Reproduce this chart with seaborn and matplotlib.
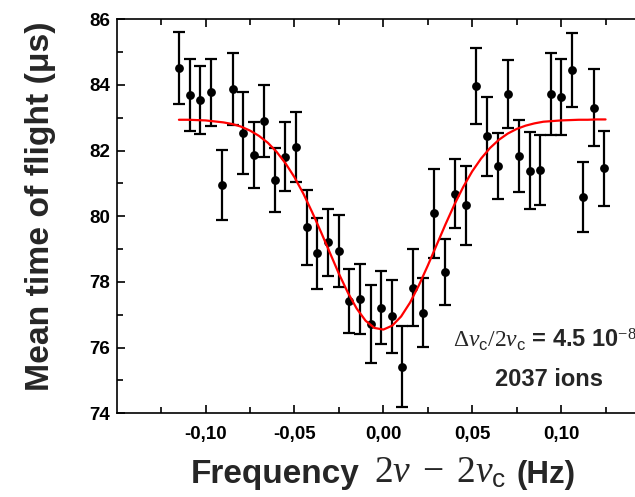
import matplotlib
matplotlib.use('Agg')
import matplotlib.pyplot as plt
import seaborn as sns
import pandas as pd
from matplotlib.ticker import FixedLocator, FuncFormatter

# measured points (frequency offset in Hz, mean TOF in us, error in us)
freq = [-0.1148, -0.1088, -0.1030, -0.0970, -0.0908, -0.0848, -0.0788, -0.0730,
        -0.0670, -0.0612, -0.0552, -0.0493, -0.0431, -0.0371, -0.0311, -0.0251,
        -0.0193, -0.0133, -0.0071, -0.0011, 0.0047, 0.0107, 0.0167, 0.0225,
        0.0287, 0.0348, 0.0404, 0.0464, 0.0524, 0.0584, 0.0644, 0.0704,
        0.0764, 0.0824, 0.0882, 0.0942, 0.1002, 0.1062, 0.1124, 0.1184, 0.1243]
tof = [84.52, 83.69, 83.55, 83.78, 80.96, 83.87, 82.55, 81.86,
       82.91, 81.10, 81.81, 82.11, 79.66, 78.87, 79.21, 78.95,
       77.42, 77.49, 76.72, 77.22, 76.95, 75.42, 77.83, 77.07,
       80.09, 78.31, 80.68, 80.34, 83.97, 82.44, 81.54, 83.72,
       81.84, 81.39, 81.41, 83.72, 83.63, 84.46, 80.59, 83.31, 81.46]
err = [1.10, 1.10, 1.03, 1.02, 1.07, 1.09, 1.25, 1.00,
       1.10, 0.97, 1.05, 1.06, 1.15, 1.07, 1.02, 1.10,
       0.96, 1.07, 1.19, 1.10, 1.10, 1.23, 1.18, 1.04,
       1.35, 1.00, 1.05, 1.20, 1.15, 1.20, 1.00, 1.03,
       1.10, 1.18, 1.08, 1.25, 1.15, 1.13, 1.06, 1.18, 1.14]

# fitted resonance curve
fit_freq = [-0.115, -0.110, -0.105, -0.100, -0.095, -0.090, -0.085, -0.080,
            -0.075, -0.070, -0.065, -0.060, -0.055, -0.050, -0.045, -0.040,
            -0.035, -0.030, -0.025, -0.020, -0.015, -0.010, -0.005, 0.000,
            0.005, 0.010, 0.015, 0.020, 0.025, 0.030, 0.035, 0.040,
            0.045, 0.050, 0.055, 0.060, 0.065, 0.070, 0.075, 0.080,
            0.085, 0.090, 0.095, 0.100, 0.105, 0.110, 0.115, 0.120, 0.125]
fit_tof = [82.94, 82.94, 82.93, 82.92, 82.89, 82.86, 82.81, 82.73,
           82.61, 82.45, 82.24, 81.96, 81.61, 81.19, 80.69, 80.12,
           79.51, 78.88, 78.25, 77.68, 77.19, 76.82, 76.60, 76.55,
           76.67, 76.95, 77.37, 77.90, 78.50, 79.13, 79.76, 80.36,
           80.90, 81.37, 81.76, 82.08, 82.33, 82.52, 82.66, 82.76,
           82.83, 82.88, 82.90, 82.92, 82.93, 82.94, 82.94, 82.95, 82.95]

xticks = [-0.10, -0.05, 0.0, 0.05, 0.10]
xminor = [-0.125, -0.075, -0.025, 0.025, 0.075, 0.125]
yticks = [74, 76, 78, 80, 82, 84, 86]
yminor = [75, 77, 79, 81, 83, 85]

sns.set_style('ticks')
plt.rcParams['font.family'] = ['Liberation Sans', 'DejaVu Sans']
plt.rcParams['mathtext.fontset'] = 'custom'
plt.rcParams['mathtext.rm'] = 'Liberation Serif'
plt.rcParams['mathtext.it'] = 'Liberation Serif:italic'
plt.rcParams['mathtext.bf'] = 'Liberation Sans:bold'
plt.rcParams['mathtext.sf'] = 'Liberation Sans'

df = pd.DataFrame({'freq': freq, 'tof': tof, 'err': err})
fit = pd.DataFrame({'freq': fit_freq, 'tof': fit_tof})

fig = plt.figure(figsize=(6.35, 4.97), dpi=100)
ax = fig.add_axes([0.1838, 0.1684, 0.8398, 0.7928])

ax.errorbar(df['freq'], df['tof'], yerr=df['err'], fmt='none', ecolor='black',
            elinewidth=1.6, capsize=4.5, capthick=1.6, zorder=2)
sns.scatterplot(data=df, x='freq', y='tof', ax=ax, color='black', s=40,
                edgecolor='black', linewidth=0, zorder=3, legend=False)
sns.lineplot(data=fit, x='freq', y='tof', ax=ax, color='red', linewidth=1.6,
             zorder=4, legend=False)

ax.set_xlim(-0.15, 0.15)
ax.set_ylim(74, 86)
ax.xaxis.set_major_locator(FixedLocator(xticks))
ax.xaxis.set_minor_locator(FixedLocator(xminor))
ax.yaxis.set_major_locator(FixedLocator(yticks))
ax.yaxis.set_minor_locator(FixedLocator(yminor))
ax.xaxis.set_major_formatter(FuncFormatter(lambda v, p: f"{v:.2f}".replace('.', ',').replace('-0,00', '0,00')))
ax.yaxis.set_major_formatter(FuncFormatter(lambda v, p: f"{int(round(v))}"))
ax.tick_params(which='both', direction='in', top=True, right=True, width=1.2,
               colors='black', labelsize=13.5)
ax.tick_params(which='major', length=6)
ax.tick_params(which='minor', length=4)
ax.tick_params(axis='x', which='major', pad=9)
ax.tick_params(axis='y', which='major', pad=5)
for lab in ax.get_xticklabels() + ax.get_yticklabels():
    lab.set_fontweight('bold')
for s in ax.spines.values():
    s.set_linewidth(1.2)
    s.set_color('black')
ax.set_xlabel('')
ax.set_ylabel('')

fig.text(41 / 635, 1 - 206 / 497, 'Mean time of flight (\u03bcs)', rotation=90,
         ha='center', va='center', fontsize=24.3, fontweight='bold')
base_y = 1 - 483 / 497
fig.text(191 / 635, base_y, 'Frequency', ha='left', va='baseline',
         fontsize=24, fontweight='bold')
fig.text(374 / 635, base_y, r'$2\nu\;-\;2\nu_{\mathsf{c}}$', ha='left',
         va='baseline', fontsize=27)
fig.text(516 / 635, base_y, '(Hz)', ha='left', va='baseline',
         fontsize=22.5, fontweight='bold')
fig.text(453 / 635, 1 - 347 / 497, r'$\Delta\nu_{\mathsf{c}}/2\nu_{\mathsf{c}}$ = 4.5 10$^{-8}$',
         ha='left', va='baseline', fontsize=17, fontweight='bold')
fig.text(549 / 635, 1 - 380 / 497, '2037 ions', ha='center', va='center',
         fontsize=17, fontweight='bold')

fig.savefig('out.png', dpi=100)
